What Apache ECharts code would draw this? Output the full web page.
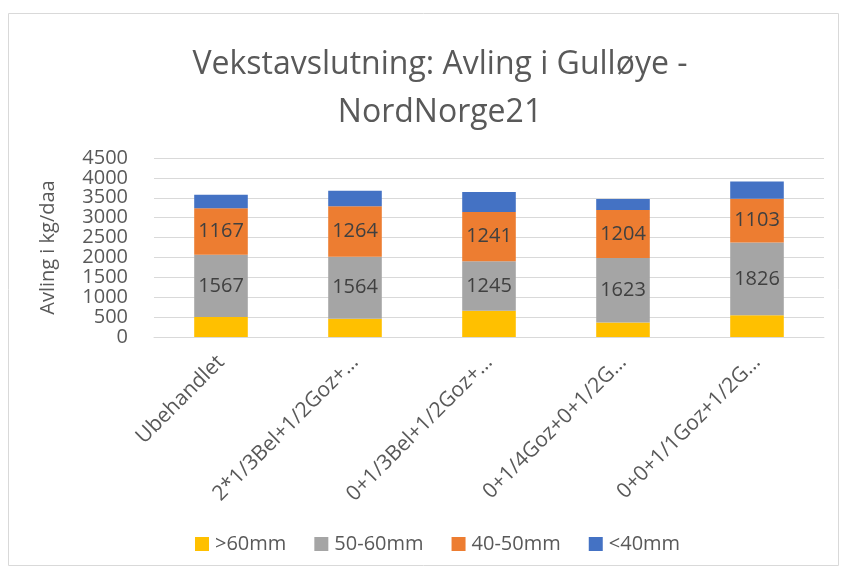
<!DOCTYPE html>
<html>
<head>
<meta charset="utf-8">
<script src="https://cdn.jsdelivr.net/npm/echarts@6/dist/echarts.min.js"></script>
<style>
  html, body { margin: 0; padding: 0; background: #fff; }
  #main { width: 841px; height: 571px; }
</style>
</head>
<body>
<div id="main"></div>
<script>
// data
var categories = ['Ubehandlet', '2*1/3Bel+1/2Goz+…', '0+1/3Bel+1/2Goz+…', '0+1/4Goz+0+1/2G…', '0+0+1/1Goz+1/2G…'];
var over60 = [500, 456, 657, 364, 548];
var mm50to60 = [1567, 1564, 1245, 1623, 1826];
var mm40to50 = [1167, 1264, 1241, 1204, 1103];
var under40 = [343, 395, 505, 280, 430];
var yTicks = { min: 0, max: 4500, step: 500 };

var font = 'Open Sans';
var txt = '#595959';

var chart = echarts.init(document.getElementById('main'));

function bar(name, data, color, showLabel) {
  return {
    name: name,
    type: 'bar',
    stack: 'total',
    data: data,
    barWidth: '40%',
    itemStyle: { color: color },
    label: {
      show: showLabel,
      position: 'inside',
      color: '#404040',
      fontFamily: font,
      fontSize: 20
    }
  };
}

chart.setOption({
  animation: false,
  textStyle: { fontFamily: font },
  graphic: [{
    type: 'rect',
    shape: { x: 8.5, y: 13.5, width: 830, height: 552 },
    style: { fill: 'none', stroke: '#d9d9d9', lineWidth: 1 },
    silent: true
  }],
  title: {
    text: 'Vekstavslutning: Avling i Gulløye -\nNordNorge21',
    left: 435,
    top: 36,
    textAlign: 'center',
    textStyle: { fontFamily: font, fontSize: 32, fontWeight: 'normal', color: txt, lineHeight: 48 }
  },
  legend: {
    bottom: 12,
    left: 190,
    itemWidth: 14,
    itemHeight: 14,
    itemGap: 28,
    icon: 'rect',
    textStyle: { fontFamily: font, fontSize: 20, color: txt, padding: [0, 0, 0, 1] },
    data: ['>60mm', '50-60mm', '40-50mm', '<40mm']
  },
  grid: { left: 154, right: 17, top: 158, bottom: 234 },
  xAxis: {
    type: 'category',
    data: categories,
    axisLine: { lineStyle: { color: '#d9d9d9' } },
    axisTick: { show: false },
    axisLabel: { rotate: 45, fontSize: 21, color: txt, fontFamily: font, margin: 22, interval: 0 }
  },
  yAxis: {
    type: 'value',
    min: yTicks.min,
    max: yTicks.max,
    interval: yTicks.step,
    name: 'Avling i kg/daa',
    nameLocation: 'middle',
    nameGap: 96,
    nameTextStyle: { fontSize: 20, color: txt, fontFamily: font },
    axisLabel: { fontSize: 20, color: txt, fontFamily: font, margin: 26, formatter: function (v) { return String(v); } },
    splitLine: { lineStyle: { color: '#d9d9d9' } },
    axisLine: { show: false },
    axisTick: { show: false }
  },
  series: [
    bar('>60mm', over60, '#FFC000', false),
    bar('50-60mm', mm50to60, '#A5A5A5', true),
    bar('40-50mm', mm40to50, '#ED7D31', true),
    bar('<40mm', under40, '#4472C4', false)
  ]
});
</script>
</body>
</html>
